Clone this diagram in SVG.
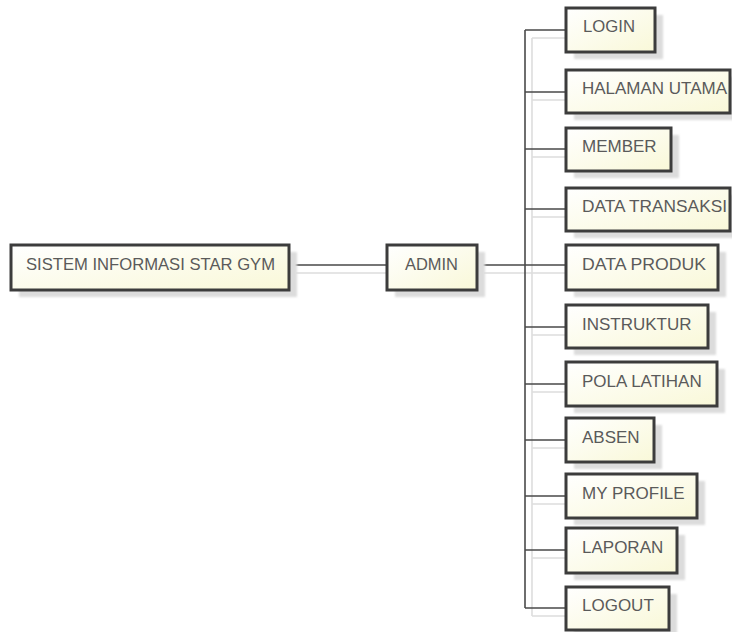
<svg xmlns="http://www.w3.org/2000/svg" width="732" height="632" viewBox="0 0 732 632">
<defs>
<linearGradient id="fillG" x1="0" y1="0" x2="1" y2="1">
<stop offset="0" stop-color="#ffffff"/>
<stop offset="1" stop-color="#f9f8d8"/>
</linearGradient>
<filter id="blur" x="-10%" y="-10%" width="130%" height="140%"><feGaussianBlur stdDeviation="1.2"/></filter>
</defs>
<style>
.box{fill:url(#fillG);stroke:#3c3c3c;stroke-width:3}
.sh{fill:#dcdcdc;filter:url(#blur)}
.t{font-family:"Liberation Sans",Arial,sans-serif;font-size:17px;fill:#5a5a5a}
.c{fill:none;stroke:#4a4a4a;stroke-width:1.6}
.cs{fill:none;stroke:#dddddd;stroke-width:1.6}
</style>
<rect width="732" height="632" fill="#ffffff"/>
<g id="connectors">
<g class="cs">
<path d="M296 273 H394 M484 273 H573"/>
<path d="M532 38 V616"/>
<path d="M532 38 H573 M532 100 H573 M532 157 H573 M532 217 H573 M532 335 H573 M532 392 H573 M532 448 H573 M532 504 H573 M532 558 H573 M532 616 H573"/>
</g>
<g class="c">
<path d="M289 265 H387 M477 265 H566"/>
<path d="M525 30 V608"/>
<path d="M525 30 H566 M525 92 H566 M525 149 H566 M525 209 H566 M525 327 H566 M525 384 H566 M525 440 H566 M525 496 H566 M525 550 H566 M525 608 H566"/>
</g>
</g>
<g id="sistem"><rect class="sh" x="19" y="252" width="278" height="45"/><rect class="box" x="11" y="245" width="278" height="45"/><text class="t" x="26" y="270" textLength="249" lengthAdjust="spacingAndGlyphs">SISTEM INFORMASI STAR GYM</text></g>
<g id="admin"><rect class="sh" x="395" y="252" width="90" height="45"/><rect class="box" x="387" y="245" width="90" height="45"/><text class="t" x="405" y="270" textLength="53" lengthAdjust="spacingAndGlyphs">ADMIN</text></g>
<g id="login"><rect class="sh" x="574" y="15" width="89" height="44"/><rect class="box" x="566" y="8" width="89" height="44"/><text class="t" x="583" y="32" textLength="52" lengthAdjust="spacingAndGlyphs">LOGIN</text></g>
<g id="halaman-utama"><rect class="sh" x="574" y="77" width="164" height="43"/><rect class="box" x="566" y="70" width="164" height="43"/><text class="t" x="582" y="94" textLength="145" lengthAdjust="spacingAndGlyphs">HALAMAN UTAMA</text></g>
<g id="member"><rect class="sh" x="574" y="135" width="105" height="43"/><rect class="box" x="566" y="128" width="105" height="43"/><text class="t" x="582" y="152">MEMBER</text></g>
<g id="data-transaksi"><rect class="sh" x="574" y="195" width="164" height="43"/><rect class="box" x="566" y="188" width="164" height="43"/><text class="t" x="582" y="212" textLength="145" lengthAdjust="spacingAndGlyphs">DATA TRANSAKSI</text></g>
<g id="data-produk"><rect class="sh" x="574" y="252" width="152" height="45"/><rect class="box" x="566" y="245" width="152" height="45"/><text class="t" x="582" y="270" textLength="124" lengthAdjust="spacingAndGlyphs">DATA PRODUK</text></g>
<g id="instruktur"><rect class="sh" x="574" y="312" width="142" height="43"/><rect class="box" x="566" y="305" width="142" height="43"/><text class="t" x="582" y="330">INSTRUKTUR</text></g>
<g id="pola-latihan"><rect class="sh" x="574" y="369" width="151" height="44"/><rect class="box" x="566" y="362" width="151" height="44"/><text class="t" x="582" y="387">POLA LATIHAN</text></g>
<g id="absen"><rect class="sh" x="574" y="425" width="88" height="44"/><rect class="box" x="566" y="418" width="88" height="44"/><text class="t" x="582" y="443">ABSEN</text></g>
<g id="my-profile"><rect class="sh" x="574" y="481" width="131" height="44"/><rect class="box" x="566" y="474" width="131" height="44"/><text class="t" x="582" y="499">MY PROFILE</text></g>
<g id="laporan"><rect class="sh" x="574" y="535" width="111" height="45"/><rect class="box" x="566" y="528" width="111" height="45"/><text class="t" x="582" y="553">LAPORAN</text></g>
<g id="logout"><rect class="sh" x="574" y="594" width="103" height="43"/><rect class="box" x="566" y="587" width="103" height="43"/><text class="t" x="582" y="611">LOGOUT</text></g>
</svg>
